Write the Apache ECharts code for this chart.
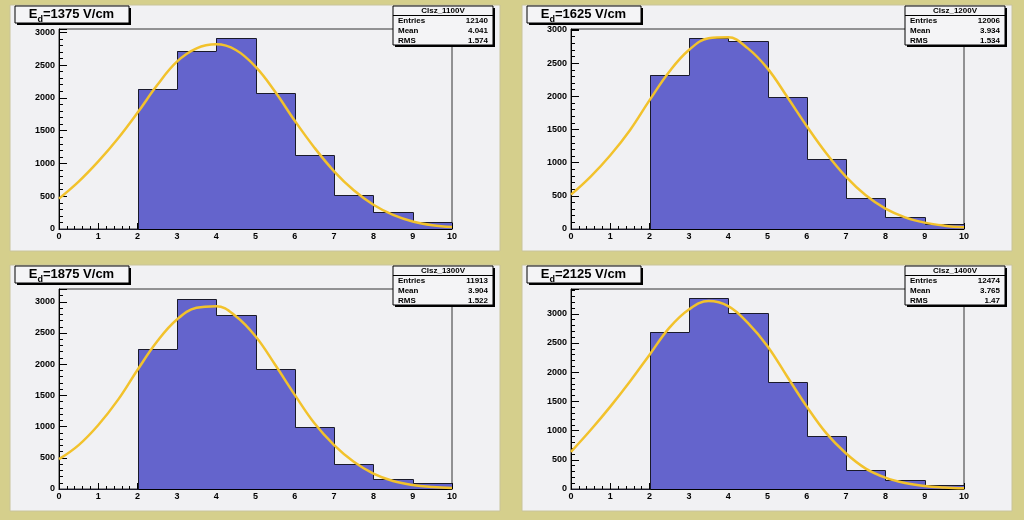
<!DOCTYPE html>
<html>
<head>
<meta charset="utf-8">
<script src="https://cdn.jsdelivr.net/npm/echarts@6/dist/echarts.min.js"></script>
<style>
html,body{margin:0;padding:0;background:#d5cf8c;}
#chart{width:1024px;height:520px;}
</style>
</head>
<body>
<div id="chart"></div>
<script>
// ---- data ----
const binLo = [0, 1, 2, 3, 4, 5, 6, 7, 8, 9];
const counts1100 = [0, 0, 2135, 2720, 2908, 2073, 1136, 525, 255, 112];
const counts1200 = [0, 0, 2321, 2874, 2829, 1983, 1052, 473, 186, 81];
const counts1300 = [0, 0, 2243, 3048, 2796, 1927, 987, 402, 166, 102];
const counts1400 = [0, 0, 2685, 3264, 3017, 1830, 912, 333, 161, 69];

const fitX = [0, 0.5, 1, 1.5, 2, 2.5, 3, 3.5, 4, 4.5, 5, 5.5, 6, 6.5, 7, 7.5, 8, 8.5, 9, 9.5, 10];
const fit1100 = [463, 722, 1030, 1380, 1775, 2195, 2552, 2755, 2816, 2730, 2475, 2093, 1650, 1240, 880, 590, 370, 215, 115, 58, 30];
const fit1200 = [518, 790, 1112, 1490, 1943, 2371, 2698, 2874, 2890, 2723, 2421, 1993, 1550, 1138, 785, 508, 307, 176, 96, 50, 25];
const fit1300 = [478, 703, 1025, 1428, 1911, 2367, 2716, 2904, 2930, 2769, 2447, 1991, 1508, 1052, 703, 435, 247, 129, 64, 32, 16];
const fit1400 = [637, 1010, 1411, 1841, 2300, 2759, 3074, 3218, 3132, 2845, 2444, 1927, 1411, 952, 608, 350, 195, 103, 52, 27, 11];

const fieldLabels = ['1375', '1625', '1875', '2125'];
const histNames = ['Clsz_1100V', 'Clsz_1200V', 'Clsz_1300V', 'Clsz_1400V'];
const statEntries = ['12140', '12006', '11913', '12474'];
const statMean = ['4.041', '3.934', '3.904', '3.765'];
const statRMS = ['1.574', '1.534', '1.522', '1.47'];
const yMax = [3050, 3015, 3205, 3425];

const allCounts = [counts1100, counts1200, counts1300, counts1400];
const allFits = [fit1100, fit1200, fit1300, fit1400];

// ---- layout ----
const FONT = '"Liberation Sans", Arial, sans-serif';
const panels = [[10, 5], [522, 5], [10, 265], [522, 265]];
const PW = 490, PH = 246;
const HIST_FILL = '#6464cc';
const FIT_COLOR = '#f2c22c';

const measureCtx = document.createElement('canvas').getContext('2d');
function textWidth(str, size) {
  measureCtx.font = 'bold ' + size + 'px ' + FONT;
  return measureCtx.measureText(str).width;
}

const grids = [], xAxes = [], yAxes = [], series = [], graphics = [];

panels.forEach(([px, py], i) => {
  grids.push({
    left: px + 49, top: py + 24, width: 393, height: 200,
    show: true, backgroundColor: 'transparent', borderColor: '#333', borderWidth: 1
  });
  xAxes.push({
    type: 'value', gridIndex: i, min: 0, max: 10, interval: 1,
    axisLine: { show: true, onZero: false, lineStyle: { color: '#000', width: 1 } },
    axisTick: { show: true, inside: true, length: 6, lineStyle: { color: '#000' } },
    minorTick: { show: true, splitNumber: 5, length: 3, lineStyle: { color: '#000' } },
    splitLine: { show: false },
    axisLabel: { fontSize: 9, fontWeight: 'bold', color: '#000', fontFamily: FONT, margin: 3 }
  });
  yAxes.push({
    type: 'value', gridIndex: i, min: 0, max: yMax[i], interval: 500,
    axisLine: { show: true, lineStyle: { color: '#000', width: 1 } },
    axisTick: { show: true, inside: true, length: 8, lineStyle: { color: '#000' } },
    minorTick: { show: true, splitNumber: 5, length: 4, lineStyle: { color: '#000' } },
    splitLine: { show: false },
    axisLabel: {
      fontSize: 9, fontWeight: 'bold', color: '#000', fontFamily: FONT, margin: 4,
      formatter: v => (v % 500 === 0 ? String(v) : '')
    }
  });

  const counts = allCounts[i];
  series.push({
    type: 'custom', xAxisIndex: i, yAxisIndex: i, z: 2,
    data: binLo.map((x, k) => [x, x + 1, counts[k], k > 0 ? counts[k - 1] : 0]),
    encode: { x: [0, 1], y: 2 },
    renderItem: function (params, api) {
      const x0 = api.value(0), x1 = api.value(1), v = api.value(2), pv = api.value(3);
      const tl = api.coord([x0, v]).map(Math.round);
      const tr = api.coord([x1, v]).map(Math.round);
      const br = api.coord([x1, 0]).map(Math.round);
      const pl = api.coord([x0, pv]).map(Math.round);
      const o = 0.5;
      return {
        type: 'group',
        children: [
          { type: 'rect', shape: { x: tl[0], y: tl[1], width: br[0] - tl[0], height: br[1] - tl[1] },
            style: { fill: HIST_FILL } },
          { type: 'polyline',
            shape: { points: [[pl[0] + o, pl[1] + o], [tl[0] + o, tl[1] + o], [tr[0] + o, tr[1] + o]] },
            style: { stroke: '#1a1a2a', lineWidth: 1, fill: null } }
        ]
      };
    }
  });
  series.push({
    type: 'line', xAxisIndex: i, yAxisIndex: i, z: 5,
    data: fitX.map((x, k) => [x, allFits[i][k]]),
    smooth: 0.4, showSymbol: false, symbol: 'none',
    lineStyle: { color: FIT_COLOR, width: 2.5 },
    itemStyle: { color: FIT_COLOR }
  });

  // panel background
  graphics.push({
    type: 'rect', z: -10, silent: true,
    shape: { x: px, y: py, width: PW, height: PH },
    style: { fill: '#f1f1f3', stroke: '#c9c49a', lineWidth: 1 }
  });
  // title box (shadow + box)
  graphics.push({
    type: 'rect', z: 100, silent: true,
    shape: { x: px + 7, y: py + 3, width: 114, height: 17 },
    style: { fill: '#000' }
  });
  graphics.push({
    type: 'rect', z: 101, silent: true,
    shape: { x: px + 5, y: py + 1, width: 114, height: 17 },
    style: { fill: '#f4f4f6', stroke: '#000', lineWidth: 1 }
  });
  const mainSize = 13, subSize = 9;
  const restText = '=' + fieldLabels[i] + ' V/cm';
  const wE = textWidth('E', mainSize), wd = textWidth('d', subSize), wR = textWidth(restText, mainSize);
  const startX = px + 61.5 - (wE + wd + wR) / 2;
  const tStyle = { fontWeight: 'bold', fontFamily: FONT, fill: '#000', verticalAlign: 'middle', align: 'left' };
  graphics.push({ type: 'text', z: 102, silent: true,
    style: Object.assign({}, tStyle, { x: startX, y: py + 9.5, text: 'E', fontSize: mainSize }) });
  graphics.push({ type: 'text', z: 102, silent: true,
    style: Object.assign({}, tStyle, { x: startX + wE, y: py + 14.5, text: 'd', fontSize: subSize }) });
  graphics.push({ type: 'text', z: 102, silent: true,
    style: Object.assign({}, tStyle, { x: startX + wE + wd, y: py + 9.5, text: restText, fontSize: mainSize }) });

  // stats box
  const sx = px + 383, sy = py + 1, sw = 100, sh = 39;
  graphics.push({
    type: 'rect', z: 100, silent: true,
    shape: { x: sx + 2, y: sy + 2, width: sw, height: sh },
    style: { fill: '#000' }
  });
  graphics.push({
    type: 'rect', z: 101, silent: true,
    shape: { x: sx, y: sy, width: sw, height: sh },
    style: { fill: '#f4f4f6', stroke: '#000', lineWidth: 1 }
  });
  graphics.push({
    type: 'line', z: 102, silent: true,
    shape: { x1: sx, y1: sy + 9.5, x2: sx + sw, y2: sy + 9.5 },
    style: { stroke: '#000', lineWidth: 1 }
  });
  const st = { fontSize: 8, fontWeight: 'bold', fontFamily: FONT, fill: '#000', verticalAlign: 'middle' };
  graphics.push({ type: 'text', z: 102, silent: true,
    style: Object.assign({}, st, { x: sx + sw / 2, y: sy + 5, align: 'center', text: histNames[i] }) });
  const rows = [['Entries', statEntries[i]], ['Mean', statMean[i]], ['RMS', statRMS[i]]];
  rows.forEach((r, k) => {
    const yy = sy + 15 + k * 10;
    graphics.push({ type: 'text', z: 102, silent: true,
      style: Object.assign({}, st, { x: sx + 5, y: yy, align: 'left', text: r[0] }) });
    graphics.push({ type: 'text', z: 102, silent: true,
      style: Object.assign({}, st, { x: sx + sw - 5, y: yy, align: 'right', text: r[1] }) });
  });
});

const chart = echarts.init(document.getElementById('chart'), null, { renderer: 'canvas' });
chart.setOption({
  backgroundColor: '#d5cf8c',
  animation: false,
  grid: grids,
  xAxis: xAxes,
  yAxis: yAxes,
  series: series,
  graphic: { elements: graphics }
});
</script>
</body>
</html>
